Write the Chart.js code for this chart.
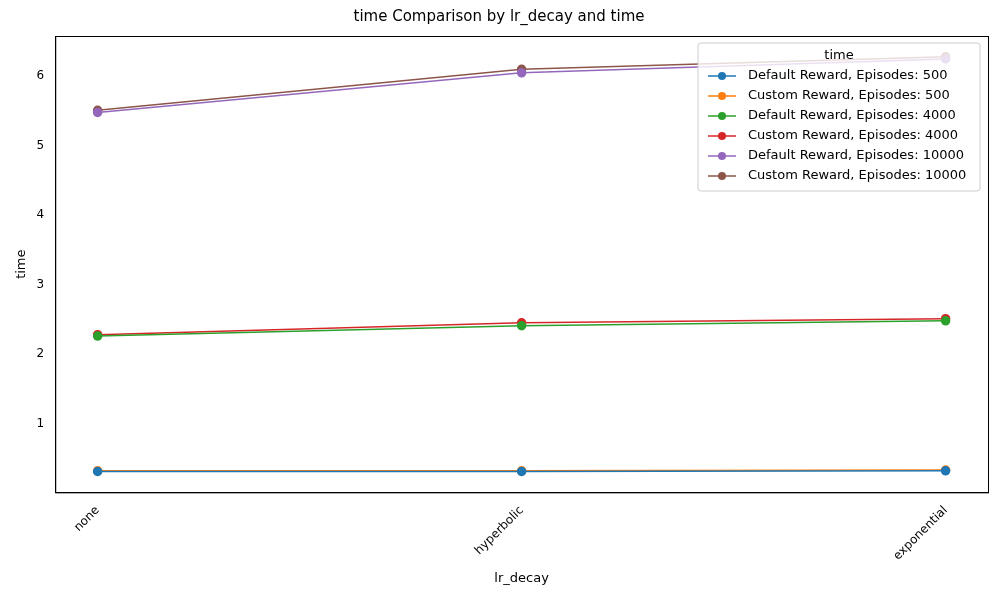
<!DOCTYPE html>
<html><head><meta charset="utf-8">
<script src="https://cdn.jsdelivr.net/npm/chart.js"></script>
<style>body{margin:0;background:#fff}#wrap{width:1000px;height:600px}</style>
</head><body><div id="wrap"><canvas id="c"></canvas></div>
<script>
const categories = ['none', 'hyperbolic', 'exponential'];
const seriesNames = ['Default Reward, Episodes: 500', 'Custom Reward, Episodes: 500',
  'Default Reward, Episodes: 4000', 'Custom Reward, Episodes: 4000',
  'Default Reward, Episodes: 10000', 'Custom Reward, Episodes: 10000'];
const def500 = [0.31, 0.31, 0.32];
const cus500 = [0.32, 0.32, 0.33];
const def4000 = [2.26, 2.41, 2.48];
const cus4000 = [2.28, 2.45, 2.51];
const def10000 = [5.48, 6.05, 6.25];
const cus10000 = [5.51, 6.10, 6.28];
const colors = ['#1f77b4', '#ff7f0e', '#2ca02c', '#d62728', '#9467bd', '#8c564b'];
const allSeries = [def500, cus500, def4000, cus4000, def10000, cus10000];

const datasets = allSeries.map((s, i) => ({
  label: seriesNames[i],
  data: s.map((v, j) => ({x: j, y: v})),
  borderColor: colors[i], backgroundColor: colors[i],
  borderWidth: 1.5, pointRadius: 4, pointHoverRadius: 4, tension: 0
}));

// full box around the axes, like matplotlib
const frame = {
  id: 'frame',
  afterDraw(chart) {
    const {ctx, chartArea: a} = chart;
    ctx.save();
    ctx.strokeStyle = '#000'; ctx.lineWidth = 1;
    ctx.strokeRect(a.left + 0.5, a.top + 0.5, a.right - a.left, a.bottom - a.top);
    ctx.restore();
  }
};

// matplotlib-style legend inside the plot, upper right
const mplLegend = {
  id: 'mplLegend',
  afterDraw(chart) {
    const {ctx, chartArea} = chart;
    const w = 282, rowH = 20, h = 28 + rowH * datasets.length;
    const x0 = chartArea.right - w - 8, y0 = chartArea.top + 7;
    ctx.save();
    ctx.fillStyle = 'rgba(255,255,255,0.8)';
    ctx.strokeStyle = '#ccc';
    ctx.lineWidth = 1;
    ctx.beginPath(); ctx.roundRect(x0, y0, w, h, 3); ctx.fill(); ctx.stroke();
    ctx.fillStyle = '#000';
    ctx.font = '13px "DejaVu Sans"';
    ctx.textAlign = 'center'; ctx.textBaseline = 'middle';
    ctx.fillText('time', x0 + w / 2, y0 + 13);
    ctx.textAlign = 'left';
    datasets.forEach((d, i) => {
      const y = y0 + 33 + i * rowH;
      ctx.strokeStyle = d.borderColor; ctx.lineWidth = 1.5;
      ctx.beginPath(); ctx.moveTo(x0 + 10, y); ctx.lineTo(x0 + 38, y); ctx.stroke();
      ctx.fillStyle = d.borderColor;
      ctx.beginPath(); ctx.arc(x0 + 24, y, 4, 0, Math.PI * 2); ctx.fill();
      ctx.fillStyle = '#000';
      ctx.fillText(d.label, x0 + 50, y);
    });
    ctx.restore();
  }
};

new Chart(document.getElementById('c'), {
  type: 'line',
  data: {datasets},
  plugins: [frame, mplLegend],
  options: {
    responsive: true, maintainAspectRatio: false, animation: false,
    layout: {padding: {left: 10, right: 12, top: 8, bottom: 10}},
    plugins: {
      legend: {display: false}, tooltip: {enabled: false},
      title: {display: true, text: 'time Comparison by lr_decay and time',
        color: '#000', font: {family: 'DejaVu Sans', size: 15, weight: 'normal'}, padding: {bottom: 10}}
    },
    scales: {
      x: {
        type: 'linear', min: -0.1, max: 2.1,
        grid: {display: false, drawTicks: true},
        border: {color: '#000'},
        afterBuildTicks: a => { a.ticks = categories.map((_, i) => ({value: i})); },
        ticks: {color: '#000', font: {family: 'DejaVu Sans', size: 12},
          maxRotation: 45, minRotation: 45, callback: v => categories[v]},
        title: {display: true, text: 'lr_decay', color: '#000', font: {family: 'DejaVu Sans', size: 13}}
      },
      y: {
        min: 0.01, max: 6.58,
        grid: {display: false},
        border: {color: '#000'},
        afterBuildTicks: a => { a.ticks = [1, 2, 3, 4, 5, 6].map(v => ({value: v})); },
        ticks: {color: '#000', font: {family: 'DejaVu Sans', size: 12}},
        title: {display: true, text: 'time', color: '#000', font: {family: 'DejaVu Sans', size: 13}}
      }
    }
  }
});
</script></body></html>
